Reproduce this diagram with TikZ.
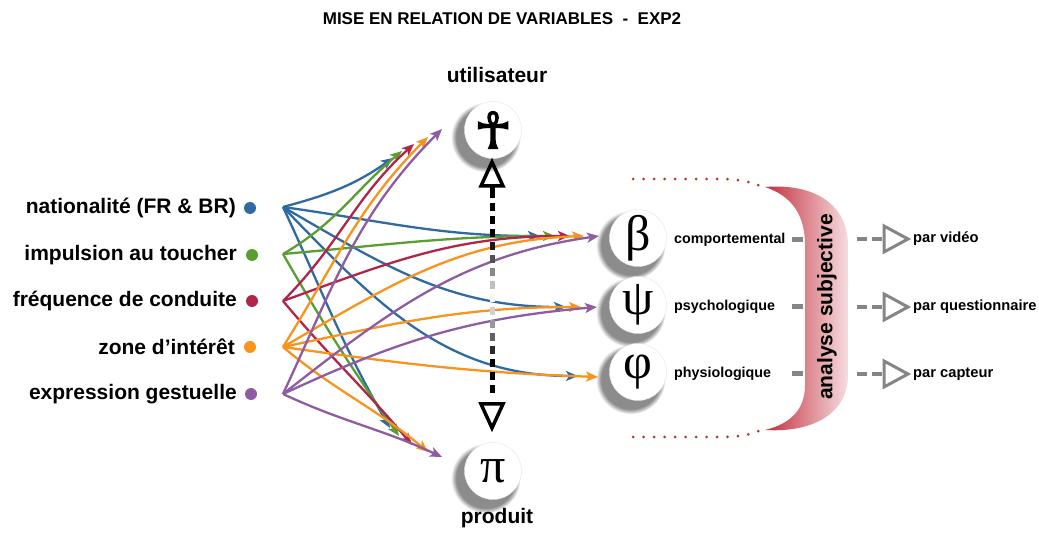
\documentclass[tikz,border=0pt]{standalone}
\usepackage{fontspec}
\setmainfont{Liberation Sans}
\newfontfamily\greekfont{Liberation Serif}
\newfontfamily\symfont[FakeBold=3]{DejaVu Sans}
\usetikzlibrary{arrows.meta,shadows,calc}
\definecolor{cblue}{HTML}{2F6AA3}
\definecolor{cgreen}{HTML}{5A9E32}
\definecolor{cred}{HTML}{B0264A}
\definecolor{corange}{HTML}{F7941D}
\definecolor{cpurple}{HTML}{8E5CA2}
\definecolor{bred}{HTML}{C22F3B}
\definecolor{bpink}{HTML}{F6DDE0}
\definecolor{dotred}{HTML}{B8342A}
\definecolor{lgray}{HTML}{858585}
\begin{document}
\begin{tikzpicture}[x=1pt,y=-1pt,
  lbl/.style={font=\bfseries\fontsize{21}{24}\selectfont, anchor=east, inner sep=0pt},
  rlbl/.style={font=\bfseries\fontsize{14.7}{16}\selectfont, anchor=west, inner sep=0pt},
  mlbl/.style={font=\bfseries\fontsize{14.3}{16}\selectfont, anchor=west, inner sep=0pt},
  bigl/.style={font=\bfseries\fontsize{21}{24}\selectfont, inner sep=0pt},
  srcdot/.style={circle, inner sep=0pt, minimum size=12pt},
  circ/.style={circle, fill=white, draw=black!10, minimum size=57pt, inner sep=0pt,
    circular drop shadow={shadow xshift=-6pt, shadow yshift=-6pt, shadow scale=1.22, opacity=0.9}},
  conn/.style={line width=2.3pt, -{Stealth[length=12pt,width=10pt,inset=3pt]}},
  opentri/.style={line width=3.5pt, line join=miter},
  grayarrow/.style={line width=3pt, lgray, line join=miter},
  graydash/.style={line width=4pt, lgray, dash pattern=on 10pt off 5pt},
  reddots/.style={dotred, line width=3pt, dash pattern=on 0pt off 10.5pt, line cap=round}
]
\useasboundingbox (0,0) rectangle (1039,534);

% title
\node[font=\bfseries\fontsize{17}{20}\selectfont] (title) at (502,19) {MISE EN RELATION DE VARIABLES\ \ -\ \ EXP2};

% left labels
\node[lbl] (l1) at (236,208) {nationalité (FR \& BR)};
\node[lbl] (l2) at (237,255) {impulsion au toucher};
\node[lbl] (l3) at (237,301) {fréquence de conduite};
\node[lbl] (l4) at (235,347) {zone d’intérêt};
\node[lbl] (l5) at (237,394) {expression gestuelle};
\node[srcdot, fill=cblue] (d1) at (250,208) {};
\node[srcdot, fill=cgreen] (d2) at (252,255) {};
\node[srcdot, fill=cred] (d3) at (252,301) {};
\node[srcdot, fill=corange] (d4) at (250,347) {};
\node[srcdot, fill=cpurple] (d5) at (251,394) {};

\coordinate (s1) at (283,207);
\coordinate (s2) at (283,254);
\coordinate (s3) at (283,301);
\coordinate (s4) at (283,347);
\coordinate (s5) at (283,394);

% circles
\node[circ] (U) at (493,130) {\symfont\fontsize{50}{50}\selectfont ☥};
\node[circ] (P) at (493,471) {\greekfont\fontsize{50}{50}\selectfont π};
\node[circ] (B) at (638,238) {\greekfont\fontsize{50}{50}\selectfont β};
\node[circ] (Y) at (638,305) {\greekfont\fontsize{50}{50}\selectfont ψ};
\node[circ] (F) at (638,372) {\greekfont\fontsize{50}{50}\selectfont φ};
\node[bigl] (ut) at (497,75) {utilisateur};
\node[bigl] (pr) at (497,518) {produit};

% target tips
\coordinate (u1) at (393,158); \coordinate (u2) at (402,151); \coordinate (u3) at (414,144);
\coordinate (u4) at (428,137); \coordinate (u5) at (442,129);
\coordinate (b1) at (540,236); \coordinate (b2) at (555,236); \coordinate (b3) at (570,236);
\coordinate (b4) at (584,236); \coordinate (b5) at (599,236);
\coordinate (y1) at (566,307); \coordinate (y4) at (581,307); \coordinate (y5) at (597,307);
\coordinate (f1) at (578,376); \coordinate (f4) at (598,377);
\coordinate (p1) at (390,428); \coordinate (p2) at (399,436); \coordinate (p3) at (412,445);
\coordinate (p4) at (428,452); \coordinate (p5) at (442,457);

% connectors
\draw[conn, cblue] (s1) to[out=15,in=215] (u1);
\draw[conn, cblue] (s1) to[out=-8,in=180] (b1);
\draw[conn, cblue] (s1) to[out=-30,in=180] (y1);
\draw[conn, cblue] (s1) to[out=-46,in=180] (f1);
\draw[conn, cblue] (s1) to[out=-65,in=120] (p1);
\draw[conn, cgreen] (s2) to[out=30,in=220] (u2);
\draw[conn, cgreen] (s2) to[out=5,in=180] (b2);
\draw[conn, cgreen] (s2) to[out=-60,in=125] (p2);
\draw[conn, cred] (s3) to[out=45,in=222] (u3);
\draw[conn, cred] (s3) to[out=20,in=180] (b3);
\draw[conn, cred] (s3) to[out=-50,in=130] (p3);
\draw[conn, corange] (s4) to[out=58,in=225] (u4);
\draw[conn, corange] (s4) to[out=30,in=182] (b4);
\draw[conn, corange] (s4) to[out=12,in=180] (y4);
\draw[conn, corange] (s4) to[out=-8,in=178] (f4);
\draw[conn, corange] (s4) to[out=-40,in=140] (p4);
\draw[conn, cpurple] (s5) to[out=65,in=225] (u5);
\draw[conn, cpurple] (s5) to[out=38,in=188] (b5);
\draw[conn, cpurple] (s5) to[out=25,in=185] (y5);
\draw[conn, cpurple] (s5) to[out=-25,in=155] (p5);

% vertical dashed double arrow between U and P
\coordinate (vt) at (492,162);
\coordinate (vb) at (492,428);
\foreach \k in {0,...,15}{
  \pgfmathsetmacro{\ya}{190+13*\k}
  \pgfmathsetmacro{\yb}{\ya+8}
  \pgfmathsetmacro{\lev}{min(100,abs(\ya+4-300)*100/60)}
  \draw[line width=5pt, black!\lev!white] (492,\ya) -- (492,\yb);
}
\draw[opentri] (vt) -- ++(11,24) -- ++(-22,0) -- cycle;
\draw[line width=5pt] ($(vt)+(0,24)$) -- ++(0,6);
\draw[opentri] (vb) -- ++(11,-24) -- ++(-22,0) -- cycle;

% middle labels
\node[mlbl] (c1) at (674,240) {comportemental};
\node[mlbl] (c2) at (674,307) {psychologique};
\node[mlbl] (c3) at (674,374) {physiologique};

% red dotted arcs
\coordinate (dt1) at (633,179);
\coordinate (dt2) at (765,188);
\coordinate (db1) at (633,437);
\coordinate (db2) at (765,428);
\draw[reddots] (dt1) -- (720,179) .. controls (740,179) and (752,182) .. (dt2);
\draw[reddots] (db1) -- (722,437) .. controls (742,437) and (754,434) .. (db2);

% bracket
\path[left color=bred, right color=bpink]
  (765,187) .. controls (815,183) and (848,205) .. (848,245) -- (848,375)
  .. controls (848,412) and (815,433) .. (765,430)
  .. controls (790,424) and (805,410) .. (805,385) -- (805,245)
  .. controls (805,215) and (792,196) .. (765,187) -- cycle;
\node[bigl, rotate=90] (AS) at (827,307) {analyse subjective};

% small gray dashes
\foreach \yy in {240,307,374}{
  \fill[lgray] (792,\yy-2.5) rectangle (803,\yy+2.5);
}

% right arrows and labels
\node[rlbl] (v1) at (913,239) {par vidéo};
\node[rlbl] (v2) at (913,307) {par questionnaire};
\node[rlbl] (v3) at (913,374) {par capteur};
\foreach \yy/\nn in {239/1,307/2,374/3}{
  \coordinate (ga\nn) at (857,\yy);
  \coordinate (gb\nn) at (884,\yy);
  \draw[graydash] (ga\nn) -- (gb\nn);
  \draw[grayarrow] (884,\yy-13) -- (908,\yy) -- (884,\yy+13) -- cycle;
}
\end{tikzpicture}
\end{document}
